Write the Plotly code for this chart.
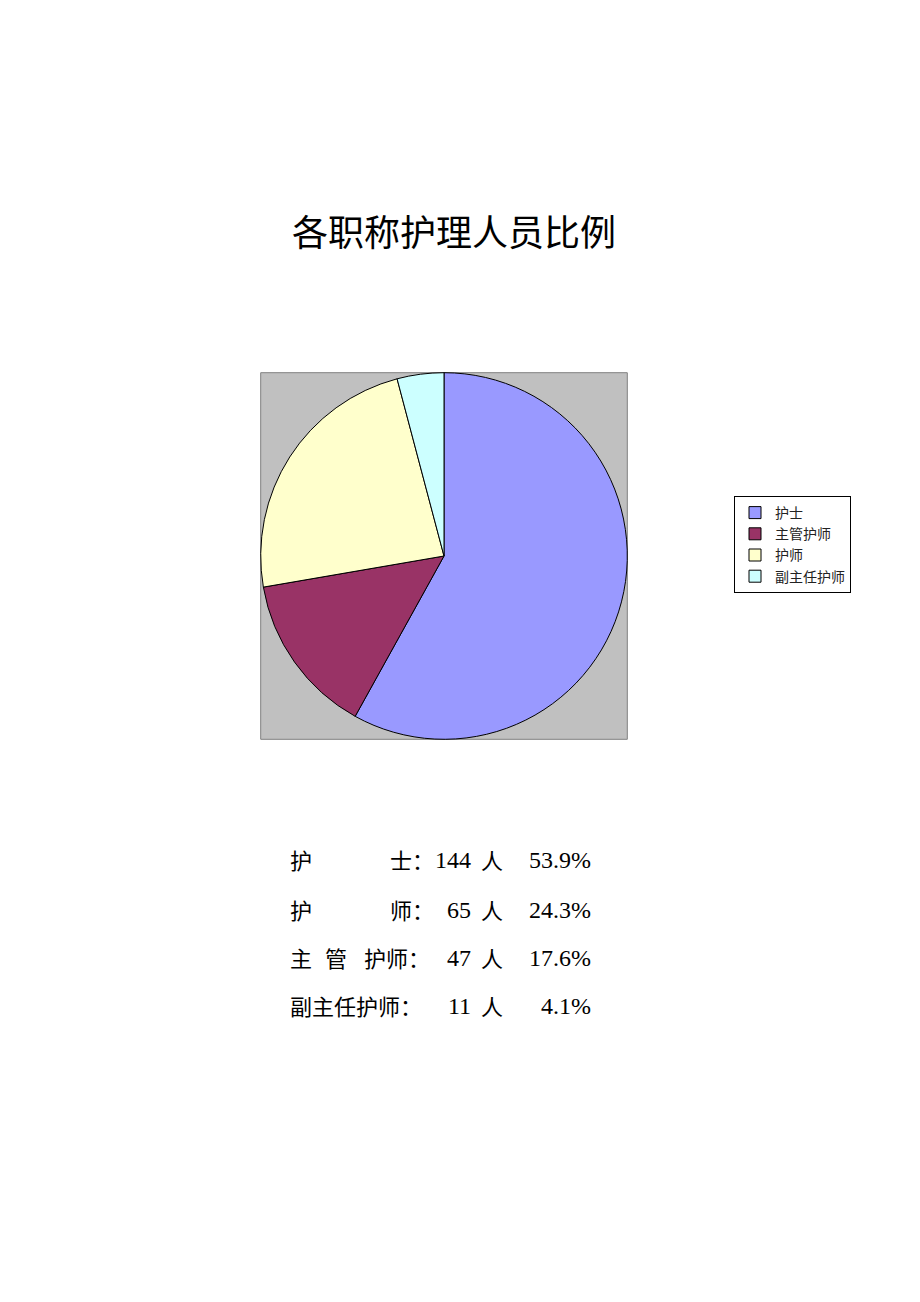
import plotly.graph_objects as go

# page size in pixels (the page body adds an 8px margin)
W, H = 904, 1286
OFF = 8

# pie data (slice sizes)
pie_labels = ["护士", "主管护师", "护师", "副主任护师"]
pie_values = [155, 38, 63, 11]
pie_colors = ["#9999FF", "#993366", "#FFFFCC", "#CCFFFF"]

# summary lines under the chart
row_names = [["护", "士："], ["护", "师："], ["主", "管", "护师："], ["副主任护师："]]
row_counts = [144, 65, 47, 11]
row_pcts = ["53.9%", "24.3%", "17.6%", "4.1%"]

title_text = "各职称护理人员比例"


def px_x(x):
    return (x - OFF) / W


def px_y(y):
    return 1 - (y - OFF) / H


# plot area of the pie in pixels
left, right, top, bottom = 260.7, 627.3, 372.7, 739.3

fig = go.Figure()
fig.add_trace(go.Pie(labels=pie_labels, values=pie_values, sort=False,
                     direction="clockwise", rotation=0, textinfo="none",
                     hoverinfo="label+value+percent",
                     marker=dict(colors=pie_colors, line=dict(color="black", width=1)),
                     domain=dict(x=[px_x(left), px_x(right)], y=[px_y(bottom), px_y(top)])))

# grey plot area behind the pie
fig.add_shape(type="rect", xref="paper", yref="paper", layer="below",
              x0=px_x(left), x1=px_x(right), y0=px_y(bottom), y1=px_y(top),
              fillcolor="#C0C0C0", line=dict(color="#808080", width=1))

cjk = "Noto Sans CJK SC"
latin = "Liberation Serif"

fig.add_annotation(text=title_text, x=px_x(454), y=px_y(230), xref="paper", yref="paper",
                   showarrow=False, xanchor="center", yanchor="middle",
                   font=dict(family=cjk, size=36, color="black"))

# x positions of the name pieces on each row
name_x = [[288, 388], [288, 388], [288, 323, 362], [288]]
row_y = [859, 909, 957, 1005]
for i in range(len(row_counts)):
    y = px_y(row_y[i])
    for part, xx in zip(row_names[i], name_x[i]):
        fig.add_annotation(text=part, x=px_x(xx), y=y, xref="paper", yref="paper",
                           showarrow=False, xanchor="left", yanchor="middle",
                           font=dict(family=cjk, size=22, color="black"))
    fig.add_annotation(text=str(row_counts[i]), x=px_x(473), y=px_y(row_y[i] + 1),
                       xref="paper", yref="paper",
                       showarrow=False, xanchor="right", yanchor="middle",
                       font=dict(family=latin, size=24, color="black"))
    fig.add_annotation(text="人", x=px_x(479), y=y, xref="paper", yref="paper",
                       showarrow=False, xanchor="left", yanchor="middle",
                       font=dict(family=cjk, size=22, color="black"))
    fig.add_annotation(text=row_pcts[i], x=px_x(593), y=px_y(row_y[i] + 1),
                       xref="paper", yref="paper",
                       showarrow=False, xanchor="right", yanchor="middle",
                       font=dict(family=latin, size=24, color="black"))

fig.update_layout(width=W, height=H, autosize=False,
                  margin=dict(l=0, r=0, t=0, b=0),
                  paper_bgcolor="white", plot_bgcolor="white",
                  showlegend=True,
                  legend=dict(x=px_x(734), y=px_y(496), xanchor="left", yanchor="top",
                              bgcolor="white", bordercolor="black", borderwidth=1,
                              itemwidth=30, traceorder="normal",
                              font=dict(family=cjk, size=14, color="#222")))

fig.write_html("out.html")
